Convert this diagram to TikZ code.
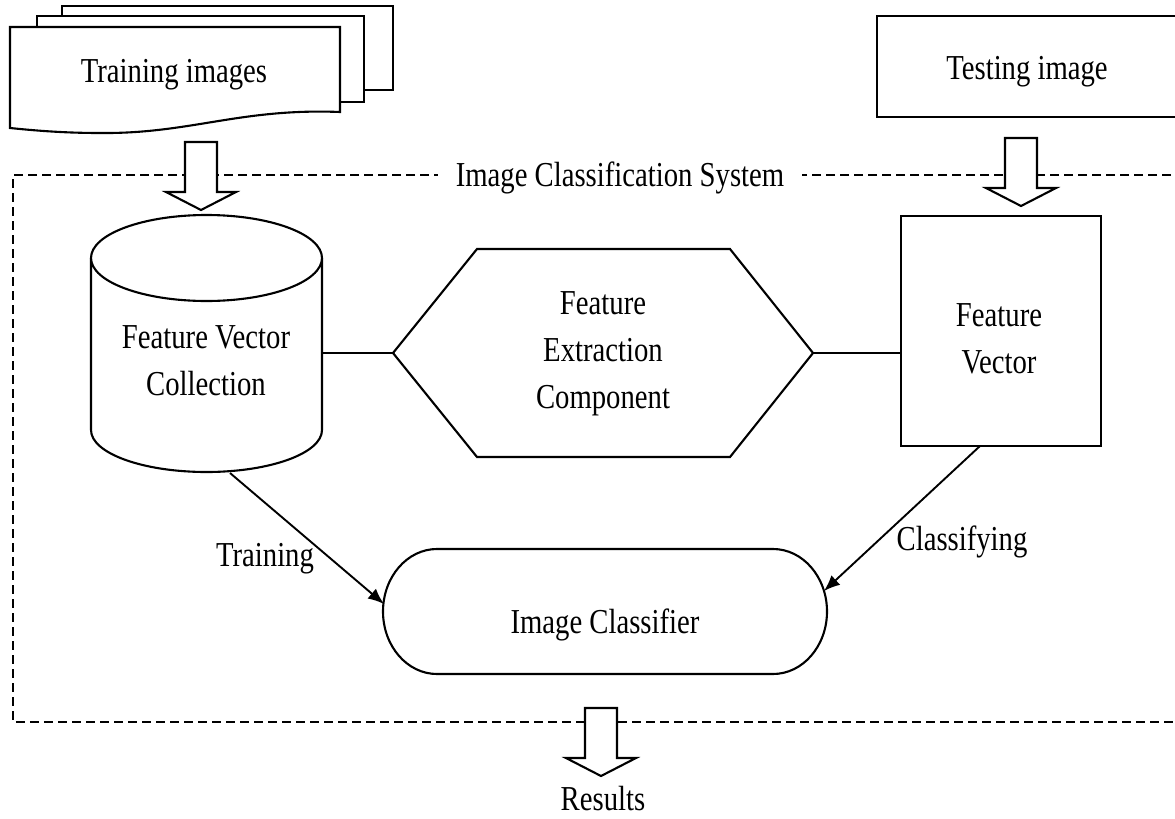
\documentclass[tikz,border=0pt]{standalone}
\usepackage{fontspec}
\setmainfont[FakeStretch=0.82]{Liberation Serif}
\usetikzlibrary{arrows.meta}
\begin{document}
\begin{tikzpicture}[x=1pt,y=-1pt,line width=2.1pt,line join=miter,
  lbl/.style={font=\fontsize{35}{47}\selectfont,align=center,inner sep=0pt},
  shapeline/.style={draw,fill=white,line width=2.1pt},
  conn/.style={-{Latex[length=16pt,width=13pt]},line width=1.9pt},
  plain/.style={line width=1.9pt},
  dashbox/.style={line width=2pt,dash pattern=on 9pt off 5pt},
  pics/blockarr/.style={code={\draw[shapeline] (0,0) -- (-35,-18) -- (-16,-18) -- (-16,-68) -- (16,-68) -- (16,-18) -- (35,-18) -- cycle;}}]
\useasboundingbox (0,0) rectangle (1175,819);
\clip (0,0) rectangle (1175,819);
\fill[white] (0,0) rectangle (1175,819);

% dashed system boundary
\draw[dashbox] (1185,175) -- (13,175) -- (13,722) -- (1185,722);
\node[lbl,anchor=base,fill=white,inner xsep=18pt,inner ysep=4pt] (sys) at (620,186) {Image Classification System};

% training images stack
\draw[shapeline] (62,6) rectangle (393,90);
\draw[shapeline] (37,16) rectangle (364,102);
\draw[shapeline] (10,128) -- (10,27) -- (340,27) -- (340,112)
  .. controls (240,108) and (190,134) .. (100,133)
  .. controls (60,133) and (30,130) .. (10,128) -- cycle;
\node[lbl,anchor=base] (train) at (174,82) {Training images};

% testing image
\node[draw,line width=2.1pt,minimum width=300pt,minimum height=101pt,inner sep=0pt] (test) at (1027,66.5) {};
\node[lbl,anchor=base] (testtxt) at (1027,79) {Testing image};

% block arrows
\pic at (201,210) {blockarr};
\pic at (1021,206) {blockarr};
\pic at (601,776) {blockarr};

% cylinder
\draw[shapeline] (91,258) -- (91,430) arc[start angle=180,end angle=0,x radius=115.5,y radius=42] -- (322,258);
\draw[shapeline] (206.5,258) ellipse [x radius=115.5,y radius=43];
\coordinate (cylE) at (322,353);
\coordinate (cylB) at (230,473);
\node[lbl,anchor=base] (fvc) at (206,395) {Feature Vector\\Collection};

% hexagon
\draw[shapeline] (393,353) -- (477,249) -- (730,249) -- (813,353) -- (730,457) -- (477,457) -- cycle;
\coordinate (hexW) at (393,353);
\coordinate (hexE) at (813,353);
\node[lbl,anchor=base] (fec) at (603,408) {Feature\\Extraction\\Component};

% feature vector box
\node[draw,line width=2.1pt,minimum width=200pt,minimum height=230pt,inner sep=0pt] (fv) at (1001,331) {};
\node[lbl,anchor=base] (fvtxt) at (999,373) {Feature\\Vector};
\coordinate (fvB) at (980,446);

% image classifier
\draw[shapeline] (437,549) -- (773,549) arc[start angle=-90,end angle=90,x radius=54,y radius=62.5]
  -- (437,674) arc[start angle=90,end angle=270,x radius=54,y radius=62.5] -- cycle;
\node[lbl,anchor=base] (ic) at (605,633) {Image Classifier};
\coordinate (icW) at (384,604);
\coordinate (icE) at (824,591);

% connectors
\draw[plain] (cylE) -- (hexW);
\draw[plain] (hexE) -- (fv.west |- hexE);
\draw[conn] (cylB) -- (icW);
\draw[conn] (fvB) -- (icE);
\node[lbl,anchor=base] (trainlbl) at (265,566) {Training};
\node[lbl,anchor=base] (classlbl) at (962,550) {Classifying};

% results
\node[lbl,anchor=base] (res) at (603,810) {Results};
\end{tikzpicture}
\end{document}
